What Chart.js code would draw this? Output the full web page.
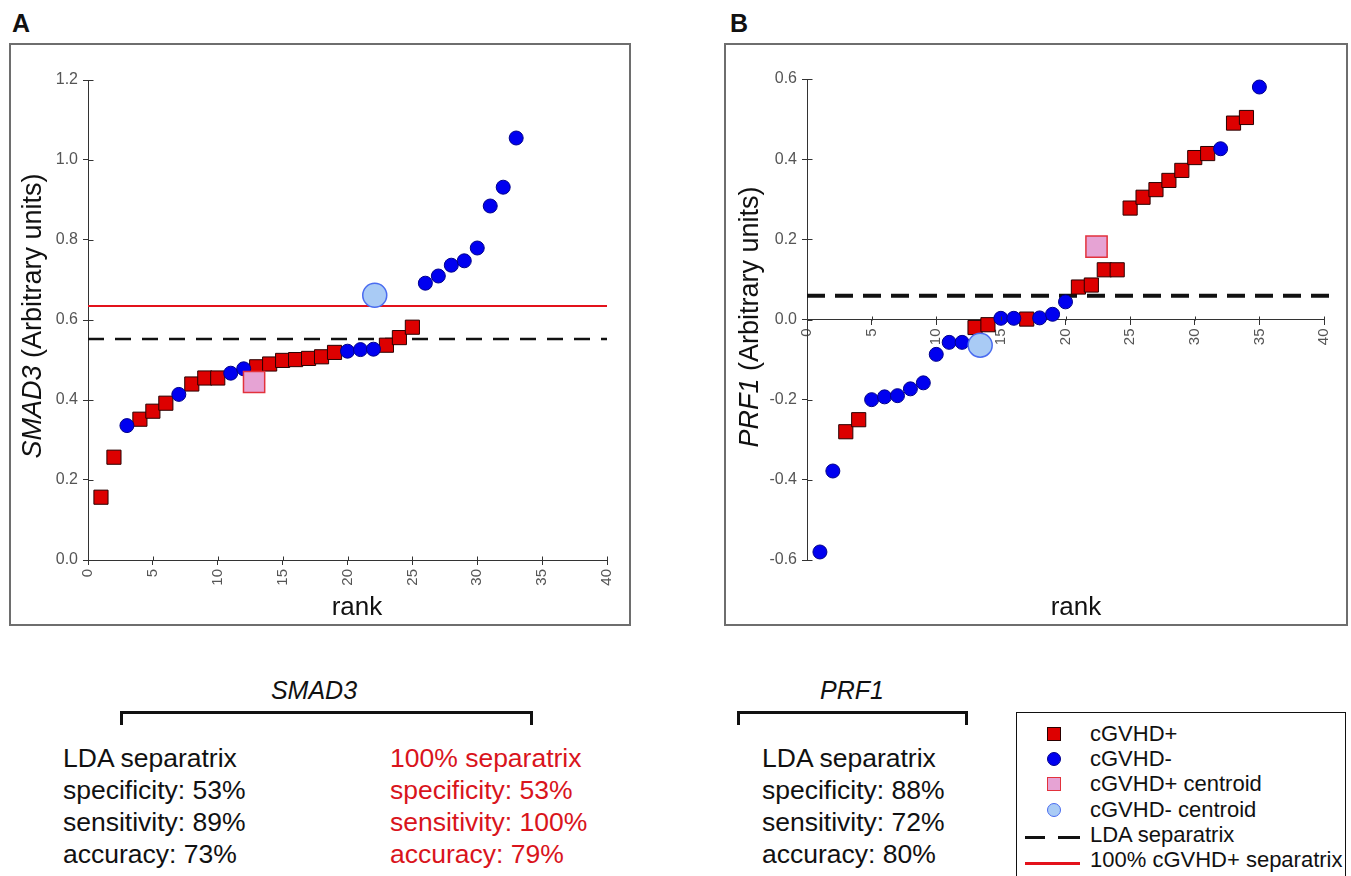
<!DOCTYPE html>
<html>
<head>
<meta charset="utf-8">
<script src="https://cdn.jsdelivr.net/npm/chart.js@4.4.0/dist/chart.umd.min.js"></script>
<style>
  body { margin:0; width:1351px; height:876px; position:relative; overflow:hidden; background:#fff;
         font-family:"Liberation Sans", Arial, sans-serif; color:#111; }
  .abs { position:absolute; white-space:nowrap; }
  .panel { position:absolute; border:2px solid #6e6e6e; box-sizing:border-box; }
  .tag { font-weight:bold; font-size:25px; line-height:1; }
  .ytitle { width:400px; height:30px; line-height:30px; font-size:27px; text-align:center; transform:rotate(-90deg); }
  .rank { font-size:26px; line-height:1; width:100px; text-align:center; }
  .gene { font-size:25px; line-height:1; font-style:italic; width:200px; text-align:center; }
  .bracket { border:3px solid #111; border-bottom:none; box-sizing:border-box; height:14px; }
  .stats { font-size:26.5px; line-height:32px; }
  .red { color:#d9141c; }
  .legend { left:1016px; top:712px; width:330px; height:180px; border:1.5px solid #111; box-sizing:border-box; }
  .lgtext { font-size:22px; line-height:1; left:1090px; }
</style>
</head>
<body>

<div class="abs tag" style="left:12px; top:11px;">A</div>
<div class="abs tag" style="left:730px; top:11px;">B</div>

<div class="panel" style="left:9px; top:43px; width:622px; height:583px;"></div>
<div class="panel" style="left:724px; top:43px; width:624px; height:583px;"></div>

<canvas id="chartA" class="abs" width="618" height="579" style="left:11px; top:45px;"></canvas>
<canvas id="chartB" class="abs" width="620" height="579" style="left:726px; top:45px;"></canvas>

<div class="abs ytitle" style="left:-168px; top:301px;"><i>SMAD3</i> (Arbitrary units)</div>
<div class="abs ytitle" style="left:549px; top:302px;"><i>PRF1</i> (Arbitrary units)</div>
<div class="abs rank" style="left:307px; top:593px;">rank</div>
<div class="abs rank" style="left:1026px; top:593px;">rank</div>

<div class="abs gene" style="left:214px; top:678px;">SMAD3</div>
<div class="abs bracket" style="left:120px; top:711px; width:413px;"></div>
<div class="abs stats" style="left:63px; top:742px;">LDA separatrix<br>specificity: 53%<br>sensitivity: 89%<br>accuracy: 73%</div>
<div class="abs stats red" style="left:390px; top:742px;">100% separatrix<br>specificity: 53%<br>sensitivity: 100%<br>accuracy: 79%</div>

<div class="abs gene" style="left:752px; top:678px;">PRF1</div>
<div class="abs bracket" style="left:737px; top:711px; width:231px;"></div>
<div class="abs stats" style="left:762px; top:742px;">LDA separatrix<br>specificity: 88%<br>sensitivity: 72%<br>accuracy: 80%</div>

<div class="abs legend"></div>
<div id="legendRows"></div>

<script>
// ---- data ----
var xTicks = [0, 5, 10, 15, 20, 25, 30, 35, 40];
var yTicksA = [0, 0.2, 0.4, 0.6, 0.8, 1.0, 1.2];
var yTicksB = [-0.6, -0.4, -0.2, 0, 0.2, 0.4, 0.6];

// SMAD3, value at rank 1..33 and group ('+' = cGVHD+, '-' = cGVHD-)
var smad3Values = [0.157, 0.257, 0.336, 0.352, 0.372, 0.392, 0.414, 0.440, 0.455, 0.455,
                   0.467, 0.478, 0.483, 0.490, 0.499, 0.501, 0.504, 0.508, 0.519, 0.522,
                   0.526, 0.527, 0.537, 0.556, 0.582, 0.692, 0.710, 0.737, 0.748, 0.780,
                   0.885, 0.932, 1.055];
var smad3Groups = ['+','+','-','+','+','+','-','+','+','+',
                   '-','-','+','+','+','+','+','+','+','-',
                   '-','-','+','+','+','-','-','-','-','-',
                   '-','-','-'];
var smad3PosCentroid = [12.8, 0.445];
var smad3NegCentroid = [22.1, 0.662];
var smad3Lda = 0.5525;
var smad3Full = 0.635;

// PRF1, value at rank 1..35
var prf1Values = [-0.580, -0.378, -0.280, -0.250, -0.200, -0.193, -0.190, -0.173, -0.158, -0.087,
                  -0.057, -0.057, -0.020, -0.013, 0.003, 0.003, 0.001, 0.004, 0.013, 0.044,
                  0.081, 0.086, 0.124, 0.124, 0.278, 0.305, 0.324, 0.347, 0.372, 0.404,
                  0.414, 0.426, 0.490, 0.504, 0.580];
var prf1Groups = ['-','-','+','+','-','-','-','-','-','-',
                  '-','-','+','+','-','-','+','-','-','-',
                  '+','+','+','+','+','+','+','+','+','+',
                  '+','-','+','+','-'];
var prf1PosCentroid = [22.4, 0.182];
var prf1NegCentroid = [13.4, -0.064];
var prf1Lda = 0.059;

var axisColor = '#333';
var tickColor = '#555';
var redFill = '#dd0000', redEdge = '#2a0000';
var blueFill = '#0000f0', blueEdge = '#00008b';
var pinkFill = '#e6a3d4', pinkEdge = '#e2323c';
var lightFill = '#a9cbf5', lightEdge = '#4a6cf0';
var lineRed = '#e3121b';

function groupPoints(values, groups, g) {
  var out = [];
  for (var i = 0; i < values.length; i++) {
    if (groups[i] === g) out.push({x: i + 1, y: values[i]});
  }
  return out;
}

// short tick stubs on the inner side of both axes
var innerTicks = {
  id: 'innerTicks',
  afterDraw: function(chart) {
    var ctx = chart.ctx, xs = chart.scales.x, ys = chart.scales.y;
    var axisY = Math.round(ys.getPixelForValue(chart.options.plugins.innerTicks.crossY)) + 0.5;
    var axisX = Math.round(chart.chartArea.left) + 0.5;
    ctx.save();
    ctx.strokeStyle = axisColor;
    ctx.lineWidth = 1;
    ctx.beginPath();
    xs.ticks.forEach(function(t) {
      var px = Math.round(xs.getPixelForValue(t.value)) + 0.5;
      ctx.moveTo(px, axisY); ctx.lineTo(px, axisY - 4);
    });
    ys.ticks.forEach(function(t) {
      var py = Math.round(ys.getPixelForValue(t.value)) + 0.5;
      ctx.moveTo(axisX, py); ctx.lineTo(axisX + 5, py);
    });
    ctx.stroke();
    ctx.restore();
  }
};

function makePanel(id, o) {
  var datasets = [
    { data: o.lda, showLine: true, pointRadius: 0, borderColor: '#111', borderWidth: o.ldaWidth,
      borderDash: o.dash, clip: false, order: 6 }
  ];
  if (o.full) {
    datasets.push({ data: o.full, showLine: true, pointRadius: 0, borderColor: lineRed, borderWidth: 2,
                    clip: false, order: 5 });
  }
  datasets.push(
    { data: groupPoints(o.values, o.groups, '+'), pointStyle: 'rect', pointRadius: 10,
      backgroundColor: redFill, borderColor: redEdge, borderWidth: 1, order: 3 },
    { data: groupPoints(o.values, o.groups, '-'), pointStyle: 'circle', pointRadius: 7,
      backgroundColor: blueFill, borderColor: blueEdge, borderWidth: 1, order: 2 },
    { data: [{x: o.posC[0], y: o.posC[1]}], pointStyle: 'rect', pointRadius: 15,
      backgroundColor: pinkFill, borderColor: pinkEdge, borderWidth: 1.5, order: 1 },
    { data: [{x: o.negC[0], y: o.negC[1]}], pointStyle: 'circle', pointRadius: 12,
      backgroundColor: lightFill, borderColor: lightEdge, borderWidth: 1.5, order: 1 }
  );

  return new Chart(document.getElementById(id), {
    type: 'scatter',
    data: { datasets: datasets },
    options: {
      responsive: false,
      animation: false,
      events: [],
      layout: { padding: o.padding },
      plugins: { legend: { display: false }, tooltip: { enabled: false }, innerTicks: { crossY: o.crossY } },
      scales: {
        x: {
          type: 'linear', min: 0, max: 40, position: o.xPos,
          afterBuildTicks: function(s) { s.ticks = xTicks.map(function(v) { return {value: v}; }); },
          afterFit: function(s) { s.height = 40; },
          ticks: { minRotation: 90, maxRotation: 90, autoSkip: false, color: tickColor, padding: 4,
                   font: { family: 'Liberation Sans', size: 15 } },
          grid: { drawOnChartArea: false, tickLength: 5, color: axisColor },
          border: { color: axisColor, width: 1 }
        },
        y: {
          type: 'linear', min: o.yTicks[0], max: o.yTicks[o.yTicks.length - 1],
          afterBuildTicks: function(s) { s.ticks = o.yTicks.map(function(v) { return {value: v}; }); },
          afterFit: function(s) { s.width = o.yWidth; },
          ticks: { color: tickColor, padding: 5, font: { family: 'Liberation Sans', size: 16 },
                   callback: function(v) { return (Math.abs(v) < 1e-9 ? 0 : v).toFixed(1); } },
          grid: { drawOnChartArea: false, tickLength: 5, color: axisColor },
          border: { color: axisColor, width: 1 }
        }
      }
    },
    plugins: [innerTicks]
  });
}

makePanel('chartA', {
  values: smad3Values, groups: smad3Groups, posC: smad3PosCentroid, negC: smad3NegCentroid,
  lda: [{x: 0, y: smad3Lda}, {x: 40, y: smad3Lda}],
  full: [{x: 0, y: smad3Full}, {x: 40, y: smad3Full}],
  ldaWidth: 2.5, dash: [16, 11],
  yTicks: yTicksA, yWidth: 77, xPos: 'bottom', crossY: 0,
  padding: { left: 0, right: 10, top: 35, bottom: 24 }
});

makePanel('chartB', {
  values: prf1Values, groups: prf1Groups, posC: prf1PosCentroid, negC: prf1NegCentroid,
  lda: [{x: 0, y: prf1Lda}, {x: 40.6, y: prf1Lda}],
  full: null,
  ldaWidth: 4, dash: [18, 10],
  yTicks: yTicksB, yWidth: 81, xPos: { y: 0 }, crossY: 0,
  padding: { left: 0, right: 9, top: 34, bottom: 64 }
});

// legend box (separate from the two panels)
var legendLabels = ['cGVHD+', 'cGVHD-', 'cGVHD+ centroid', 'cGVHD- centroid', 'LDA separatrix', '100% cGVHD+ separatrix'];
var legendBaselines = [742, 767, 792, 818, 843, 868];
var rows = document.getElementById('legendRows');
legendLabels.forEach(function(lbl, i) {
  var base = legendBaselines[i];
  var t = document.createElement('div');
  t.className = 'abs lgtext';
  t.style.top = (base - 18.6) + 'px';
  t.textContent = lbl;
  rows.appendChild(t);

  var cy = base - 8;
  var m = document.createElement('div');
  m.className = 'abs';
  m.style.boxSizing = 'border-box';
  if (i < 4) {
    m.style.left = '1047px'; m.style.top = (cy - 7) + 'px';
    m.style.width = '14px'; m.style.height = '14px';
    if (i === 0) { m.style.background = redFill; m.style.border = '1px solid ' + redEdge; }
    if (i === 1) { m.style.background = blueFill; m.style.border = '1px solid ' + blueEdge; m.style.borderRadius = '50%'; }
    if (i === 2) { m.style.background = pinkFill; m.style.border = '1.5px solid ' + pinkEdge; }
    if (i === 3) { m.style.background = lightFill; m.style.border = '1.5px solid ' + lightEdge; m.style.borderRadius = '50%'; }
    rows.appendChild(m);
  } else if (i === 4) {
    [[1025, 20], [1058, 22]].forEach(function(seg) {
      var d = document.createElement('div');
      d.className = 'abs';
      d.style.left = seg[0] + 'px'; d.style.top = (cy + 1) + 'px';
      d.style.width = seg[1] + 'px'; d.style.height = '3px'; d.style.background = '#111';
      rows.appendChild(d);
    });
  } else {
    m.style.left = '1025px'; m.style.top = (cy + 2) + 'px';
    m.style.width = '55px'; m.style.height = '3px'; m.style.background = lineRed;
    rows.appendChild(m);
  }
});
</script>
</body>
</html>
